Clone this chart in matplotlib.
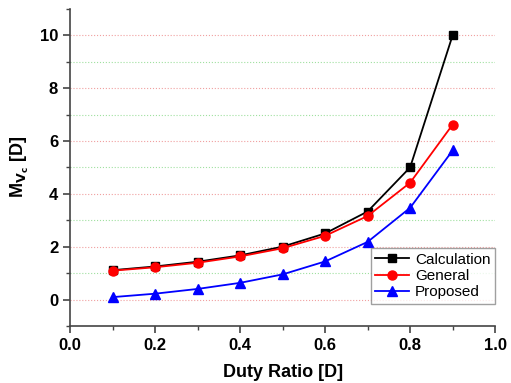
import matplotlib
matplotlib.use('Agg')
import matplotlib.pyplot as plt
from matplotlib.ticker import MultipleLocator

plt.rcParams['font.family'] = ['Liberation Sans', 'DejaVu Sans']

duty = [0.1, 0.2, 0.3, 0.4, 0.5, 0.6, 0.7, 0.8, 0.9]
calculation = [1.11, 1.25, 1.43, 1.67, 2.0, 2.5, 3.33, 5.0, 10.0]
general = [1.09, 1.22, 1.39, 1.63, 1.94, 2.41, 3.16, 4.42, 6.62]
proposed = [0.09, 0.22, 0.40, 0.63, 0.95, 1.44, 2.18, 3.47, 5.64]

fig = plt.figure(figsize=(5.11, 3.83), dpi=100)
ax = fig.add_axes([0.137, 0.149, 0.832, 0.828])

ax.plot(duty, calculation, '-s', color='black', lw=1.3, ms=5.5, label='Calculation')
ax.plot(duty, general, '-o', color='red', lw=1.3, ms=6.5, label='General')
ax.plot(duty, proposed, '-^', color='blue', lw=1.3, ms=6.5, label='Proposed')

ax.set_xlim(0, 1.0)
ax.set_ylim(-1, 11)
ax.xaxis.set_major_locator(MultipleLocator(0.2))
ax.xaxis.set_minor_locator(MultipleLocator(0.1))
ax.yaxis.set_major_locator(MultipleLocator(2))
ax.yaxis.set_minor_locator(MultipleLocator(1))
ax.set_yticks([0, 2, 4, 6, 8, 10])

# dotted grid: red at major, green at minor
for v in range(0, 11, 2):
    ax.axhline(v, color='#f0a0a0', lw=0.8, ls=':', zorder=0)
for v in range(1, 11, 2):
    ax.axhline(v, color='#a0e0a0', lw=0.8, ls=':', zorder=0)

for s in ['top', 'right']:
    ax.spines[s].set_visible(False)
for s in ['left', 'bottom']:
    ax.spines[s].set_color('#444444')
    ax.spines[s].set_linewidth(1.2)

ax.tick_params(which='major', direction='out', length=5, width=1.2, color='#444444',
               labelsize=12)
ax.tick_params(which='minor', direction='out', length=3, width=1.0, color='#444444')
for lbl in ax.get_xticklabels() + ax.get_yticklabels():
    lbl.set_fontweight('bold')
ax.xaxis.set_major_formatter(matplotlib.ticker.FormatStrFormatter('%.1f'))

ax.set_xlabel('Duty Ratio [D]', fontsize=13, fontweight='bold', labelpad=8)
ax.set_ylabel(r'M$_{\mathbf{V_c}}$ [D]', fontsize=13, fontweight='bold', labelpad=6)

leg = ax.legend(loc='lower right', bbox_to_anchor=(1.0, 0.07), fancybox=False,
                edgecolor='#888888', fontsize=11, handlelength=2.2,
                borderpad=0.3, labelspacing=0.15, handletextpad=0.4, borderaxespad=0)
leg.get_frame().set_linewidth(1.0)

fig.savefig('out.png', dpi=100)
